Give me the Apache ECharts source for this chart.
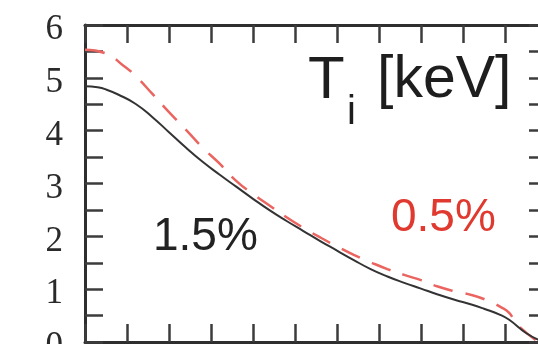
<!DOCTYPE html>
<html>
<head>
<meta charset="utf-8">
<script src="https://cdn.jsdelivr.net/npm/echarts@6/dist/echarts.min.js"></script>
<style>
  html, body { margin: 0; padding: 0; background: #fff; }
  #chart { width: 538px; height: 344px; }
</style>
</head>
<body>
<div id="chart"></div>
<script>
// Ion temperature profiles vs. normalised radius
const rho15 = [0.00, 0.03, 0.05, 0.08, 0.12, 0.16, 0.20, 0.24, 0.28, 0.32, 0.36, 0.40, 0.44, 0.48, 0.52, 0.56, 0.60, 0.64, 0.68, 0.72, 0.76, 0.80, 0.84, 0.88, 0.92, 0.95, 0.99, 1.01, 1.05, 1.08];
const ti15  = [4.84, 4.82, 4.78, 4.68, 4.51, 4.26, 3.97, 3.68, 3.41, 3.17, 2.94, 2.71, 2.49, 2.29, 2.10, 1.91, 1.73, 1.55, 1.38, 1.24, 1.12, 1.01, 0.90, 0.80, 0.71, 0.63, 0.51, 0.42, 0.17, 0.04];

const rho05 = [0.00, 0.05, 0.09, 0.12, 0.16, 0.20, 0.24, 0.28, 0.32, 0.36, 0.40, 0.44, 0.48, 0.52, 0.56, 0.60, 0.64, 0.68, 0.72, 0.76, 0.80, 0.84, 0.88, 0.92, 0.96, 0.99, 1.01, 1.03, 1.08];
const ti05  = [5.53, 5.46, 5.24, 5.04, 4.70, 4.35, 4.02, 3.68, 3.38, 3.05, 2.80, 2.58, 2.36, 2.16, 1.98, 1.81, 1.65, 1.51, 1.38, 1.27, 1.17, 1.05, 0.96, 0.89, 0.78, 0.66, 0.55, 0.32, 0.00];

const labelTi   = 'T';
const labelSub  = 'i';
const labelUnit = '[keV]';
const label15   = '1.5%';
const label05   = '0.5%';

const pairs = (xs, ys) => xs.map((x, i) => [x, ys[i]]);

const frame = '#2e2e2e';
const tickStyle = { show: true, inside: true, length: 18, lineStyle: { color: '#3c3c3c', width: 2.5 } };
const lineStyleAxis = { show: true, onZero: false, lineStyle: { color: frame, width: 3 } };

const xBase = {
  type: 'value', min: 0, max: 1.1, interval: 0.1,
  axisLine: lineStyleAxis,
  axisTick: tickStyle,
  axisLabel: { show: false },
  splitLine: { show: false }
};
const yBase = {
  type: 'value', min: 0, max: 6, interval: 0.5,
  axisLine: lineStyleAxis,
  axisTick: tickStyle,
  splitLine: { show: false }
};

const chart = echarts.init(document.getElementById('chart'), null, { renderer: 'canvas' });
chart.setOption({
  animation: false,
  backgroundColor: '#fff',
  grid: { left: 85, top: 25, width: 462, height: 317, containLabel: false, outerBoundsMode: 'none' },
  xAxis: [
    Object.assign({ position: 'bottom' }, xBase),
    Object.assign({ position: 'top' }, xBase)
  ],
  yAxis: [
    Object.assign({ position: 'left', axisLabel: {
      show: true, margin: 22,
      formatter: v => (Math.abs(v - Math.round(v)) < 1e-6 ? '{n|' + Math.round(v) + '}' : ''),
      rich: {
        n: { color: '#2a2a2a', fontFamily: 'Liberation Serif', fontSize: 35, padding: [10, 0, 0, 0] }
      }
    } }, yBase),
    Object.assign({ position: 'right', axisLabel: { show: false } }, yBase)
  ],
  series: [
    {
      type: 'line', data: pairs(rho05, ti05), smooth: 0.5, symbol: 'none',
      lineStyle: { color: '#ea6560', width: 2.5, type: [20, 13] }, z: 3
    },
    {
      type: 'line', data: pairs(rho15, ti15), smooth: 0.5, symbol: 'none',
      lineStyle: { color: '#333', width: 2 }, z: 4
    }
  ],
  graphic: [
    { type: 'text', left: 308, top: 51, style: { text: labelTi, font: '60px "Liberation Sans"', fill: '#1e1e1e' } },
    { type: 'text', left: 347, top: 93, style: { text: labelSub, font: '40px "Liberation Sans"', fill: '#1e1e1e' } },
    { type: 'text', left: 377, top: 51, style: { text: labelUnit, font: '59px "Liberation Sans"', fill: '#1e1e1e' } },
    { type: 'text', left: 153, top: 214, style: { text: label15, font: '46px "Liberation Sans"', fill: '#222' } },
    { type: 'text', left: 391, top: 195, style: { text: label05, font: '46px "Liberation Sans"', fill: '#e0392f' } }
  ]
});
</script>
</body>
</html>
